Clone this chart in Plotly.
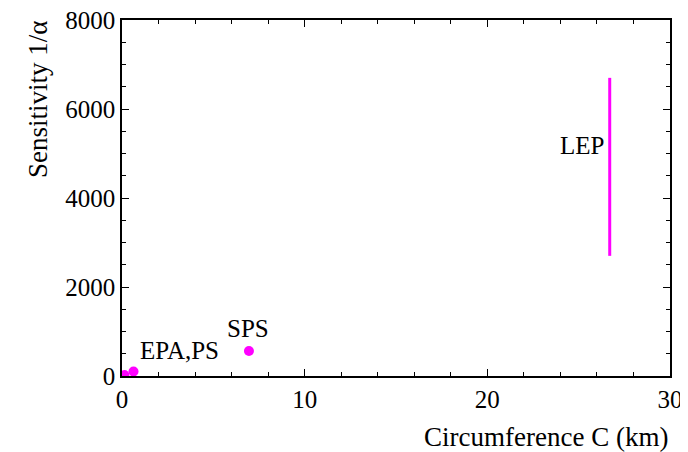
import plotly.graph_objects as go

# Ring data: circumference (km) and sensitivity 1/alpha
ring_names = ["EPA", "PS", "SPS"]
ring_circ = [0.13, 0.63, 6.95]
ring_sens = [20, 100, 560]

lep_circ = [26.7, 26.7]
lep_sens = [2700, 6700]

labels = ["EPA,PS", "SPS", "LEP"]
label_x = [0.85, 6.9, 25.2]
label_y = [580, 1075, 5175]

magenta = "#ff00ff"
font_family = "Liberation Serif, Times New Roman, serif"
fsize = 25
tsize = 27

fig = go.Figure()

fig.add_trace(go.Scatter(
    x=ring_circ, y=ring_sens, mode="markers",
    marker=dict(color=magenta, size=10),
    text=ring_names, showlegend=False,
))

fig.add_trace(go.Scatter(
    x=lep_circ, y=lep_sens, mode="lines",
    line=dict(color=magenta, width=3),
    showlegend=False,
))

for txt, lx, ly in zip(labels, label_x, label_y):
    fig.add_annotation(
        x=lx, y=ly, text=txt, showarrow=False,
        xanchor="left" if txt == "EPA,PS" else "center",
        yanchor="middle",
        font=dict(size=fsize, color="black", family=font_family),
    )

axis_common = dict(
    showgrid=False, zeroline=False, showline=True, linecolor="black",
    linewidth=1.5, mirror="ticks", ticks="inside", ticklen=7,
    tickcolor="black", automargin=False, ticklabeloverflow="allow",
    tickfont=dict(size=fsize, color="black", family=font_family),
)

fig.update_xaxes(
    range=[0, 30], tickvals=[0, 10, 20, 30],
    minor=dict(dtick=2, ticks="inside", ticklen=4, tickcolor="black"),
    **axis_common,
)
fig.update_yaxes(
    range=[0, 8000], tickvals=[0, 2000, 4000, 6000, 8000],
    minor=dict(dtick=500, ticks="inside", ticklen=4, tickcolor="black"),
    **axis_common,
)

fig.add_annotation(
    xref="paper", yref="paper", x=1.0, y=-0.171,
    text="Circumference C (km)", showarrow=False,
    xanchor="right", yanchor="middle",
    font=dict(size=tsize, color="black", family=font_family),
)
fig.add_annotation(
    xref="paper", yref="paper", x=-0.153, y=1.002,
    text="Sensitivity 1/α", showarrow=False, textangle=-90,
    xanchor="center", yanchor="top",
    font=dict(size=tsize, color="black", family=font_family),
)

# page body adds ~8px offset, so shrink the figure to compensate
fig.update_layout(
    width=680, height=444,
    margin=dict(l=114, r=18, t=12, b=76),
    plot_bgcolor="white", paper_bgcolor="white",
)

fig.write_html("out.html")
